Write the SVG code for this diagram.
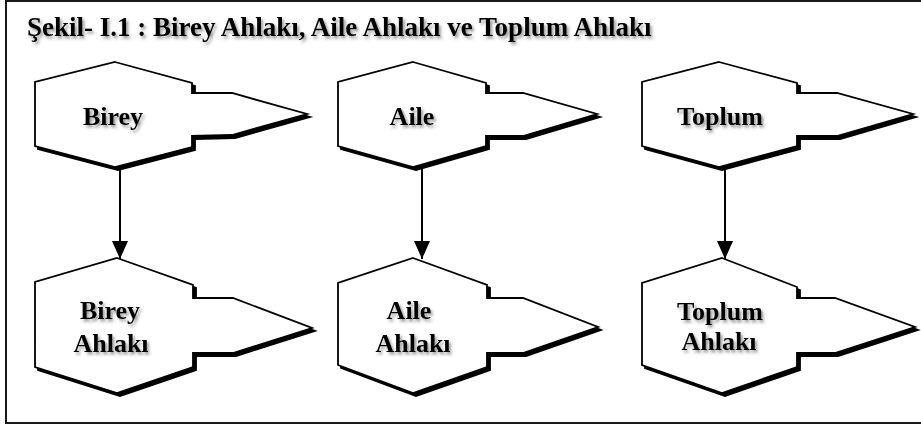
<svg xmlns="http://www.w3.org/2000/svg" width="921" height="427" viewBox="0 0 921 427">
  <defs>
    <filter id="shapeShadow" x="-10%" y="-10%" width="130%" height="130%">
      <feDropShadow dx="3" dy="3" stdDeviation="0.7" flood-color="#000" flood-opacity="1"/>
    </filter>
    <filter id="textShadow" x="-10%" y="-30%" width="130%" height="170%">
      <feDropShadow dx="2" dy="2.5" stdDeviation="1.4" flood-color="#444" flood-opacity="0.55"/>
    </filter>
    <marker id="arrow" markerUnits="userSpaceOnUse" markerWidth="18" markerHeight="16" refX="18" refY="8" orient="auto">
      <path d="M0,0 L18,8 L0,16 z" fill="#000"/>
    </marker>
  </defs>
  <style>
    .frame { fill: #fff; stroke: #1a1a1a; stroke-width: 2; }
    .shape { fill: #fff; stroke: #000; stroke-width: 1.8; stroke-linejoin: miter; filter: url(#shapeShadow); }
    .lbl { font-family: "Liberation Serif", "Times New Roman", serif; font-weight: bold; font-size: 26px; fill: #000; text-anchor: middle; filter: url(#textShadow); }
    .title { font-family: "Liberation Serif", "Times New Roman", serif; font-weight: bold; font-size: 27px; fill: #000; filter: url(#textShadow); }
    .conn { stroke: #000; stroke-width: 2; fill: none; marker-end: url(#arrow); }
  </style>

  <rect class="frame" x="6" y="1" width="925" height="422"/>

  <text class="title" x="27" y="36">Şekil- I.1 : Birey Ahlakı, Aile Ahlakı ve Toplum Ahlakı</text>

  <g id="connectors">
    <line class="conn" x1="120" y1="167" x2="120" y2="259"/>
    <line class="conn" x1="422" y1="167" x2="422" y2="259"/>
    <line class="conn" x1="725" y1="167" x2="725" y2="259"/>
  </g>

  <g id="birey">
    <polygon class="shape" points="115,62 192,83 192,93 232,93 307,114 232,135 192,136 192,147 115,167 35,146 35,82"/>
    <text class="lbl" x="113" y="125">Birey</text>
  </g>
  <g id="aile">
    <polygon class="shape" points="413,62 486,83 486,93 523,93 597,114 523,136 486,136 486,146 413,167 338,146 338,82"/>
    <text class="lbl" x="412" y="125">Aile</text>
  </g>
  <g id="toplum">
    <polygon class="shape" points="719,62 797,83 797,93 837,93 913,114 837,136 797,136 797,146 719,167 642,146 642,82"/>
    <text class="lbl" x="720" y="125">Toplum</text>
  </g>

  <g id="birey-ahlaki">
    <polygon class="shape" points="117,258 193,285 193,298 233,298 312,328 233,353 193,353 193,367 117,393 35,367 35,282"/>
    <text class="lbl" x="110" y="319">Birey</text>
    <text class="lbl" x="111" y="352">Ahlakı</text>
  </g>
  <g id="aile-ahlaki">
    <polygon class="shape" points="413,258 487,285 487,298 523,298 598,327 523,353 487,353 487,367 413,393 338,365 338,283"/>
    <text class="lbl" x="409" y="319">Aile</text>
    <text class="lbl" x="413" y="352">Ahlakı</text>
  </g>
  <g id="toplum-ahlaki">
    <polygon class="shape" points="722,258 797,287 797,298 835,298 915,327 835,353 797,353 797,367 722,393 642,365 642,283"/>
    <text class="lbl" x="720" y="320">Toplum</text>
    <text class="lbl" x="719" y="350">Ahlakı</text>
  </g>
</svg>
